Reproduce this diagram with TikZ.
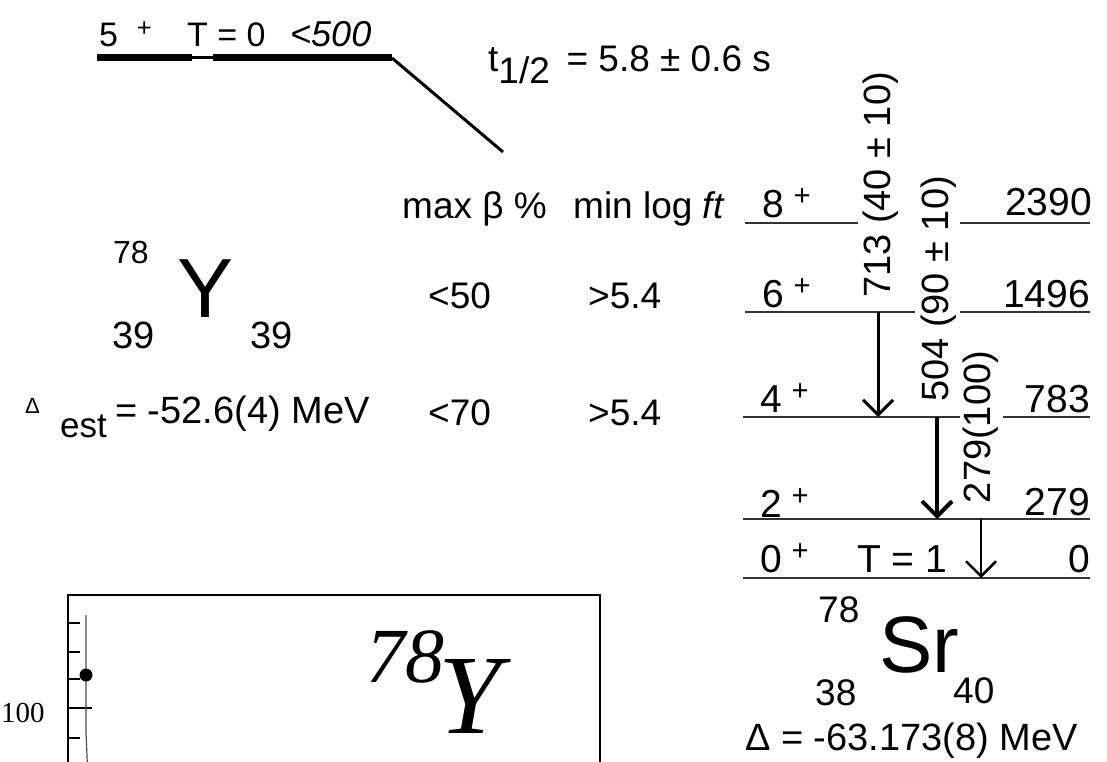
\documentclass[tikz,border=0pt]{standalone}
\usepackage{graphicx}
\usepackage{fontspec}
\setmainfont{Liberation Sans}
\newfontfamily\plotfont{Liberation Serif}
\usepackage{tikz}
\usetikzlibrary{positioning,arrows.meta}
\newcommand{\fsz}[1]{\fontsize{#1}{#1}\selectfont}
\newcommand{\upl}{\raisebox{0.3em}{\scalebox{0.75}{+}}}

\begin{document}
\begin{tikzpicture}[x=1pt,y=-1pt,
  lab/.style={anchor=base west, inner sep=0pt, font=\fsz{37}},
  rlab/.style={anchor=base east, inner sep=0pt, font=\fsz{39}},
  rot/.style={rotate=90, inner sep=0pt, font=\fsz{38}},
  lvl/.style={line width=2pt, black!80},
  gam/.style={-{Straight Barb[length=15pt,width=30pt]}}]
\clip (0,0) rectangle (1107,762);
\fill[white] (0,0) rectangle (1107,762);

% parent state
\node[lab, font=\fsz{34}] (jp5) at (99,47) {5\hspace{0.55em}\upl};
\node[lab, font=\fsz{34}] (iso0) at (187,47) {T = 0};
\node[lab, font=\fsz{36}\itshape] (qec) at (290,47) {<500};
\coordinate (gsA) at (97,58);
\coordinate (gsB) at (192,58);
\coordinate (gsC) at (213,58);
\coordinate (gsD) at (392,58);
\coordinate (betaend) at (503,152);
\draw[line width=7pt] (gsA) -- (gsB);
\draw[line width=3pt] (gsB) -- (gsC);
\draw[line width=7pt] (gsC) -- (gsD);
\draw[line width=3pt] (gsD) -- (betaend);
\node[lab] (thalf) at (488,72) {t\raisebox{-0.32em}{1/2}\hspace{0.45em}= 5.8 ± 0.6 s};

% branching table
\node[lab] (hbeta) at (402,218) {max β \%};
\node[lab] (hlogft) at (573,218) {min log \textit{ft}};
\node[lab] (b6) at (428,308) {<50};
\node[lab] (ft6) at (588,308) {>5.4};
\node[lab] (b4) at (428,425) {<70};
\node[lab] (ft4) at (588,425) {>5.4};

% parent nucleus
\node[lab, font=\fsz{32}] (yA) at (113,263) {78};
\node[lab, font=\fsz{84}] (ysym) at (177,317) {Y};
\node[lab, font=\fsz{38}] (yZ) at (112,348) {39};
\node[lab, font=\fsz{38}] (yN) at (250,348) {39};
\node[lab, font=\fsz{22}] (ydel) at (25,413) {Δ};
\node[lab, font=\fsz{35}] (yest) at (60,437) {est};
\node[lab, font=\fsz{38}] (ymass) at (115,423) {= -52.6(4) MeV};

% levels of the daughter
\foreach \y/\a/\b/\c/\d in {223/745/858/960/1090, 312/745/915/960/1090, 417/743/960/1003/1090}
  {\draw[lvl] (\a,\y) -- (\b,\y) (\c,\y) -- (\d,\y);}
\draw[lvl] (743,519) -- (1090,519);
\draw[lvl] (743,578) -- (1090,578);

\node[lab, font=\fsz{39}] (s8) at (762,217) {8\hspace{0.25em}\upl};
\node[rlab] (e8) at (1092,215) {2390};
\node[lab, font=\fsz{39}] (s6) at (762,307) {6\hspace{0.25em}\upl};
\node[rlab] (e6) at (1090,307) {1496};
\node[lab, font=\fsz{39}] (s4) at (760,412) {4\hspace{0.25em}\upl};
\node[rlab] (e4) at (1090,412) {783};
\node[lab, font=\fsz{39}] (s2) at (760,517) {2\hspace{0.25em}\upl};
\node[rlab] (e2) at (1090,515) {279};
\node[lab, font=\fsz{39}] (s0) at (760,572) {0\hspace{0.25em}\upl};
\node[lab, font=\fsz{39}] (iso1) at (857,572) {T = 1};
\node[rlab] (e0) at (1090,572) {0};

% gamma rays
\coordinate (g713a) at (878,312);
\coordinate (g713b) at (878,417);
\coordinate (g504a) at (937,417);
\coordinate (g504b) at (937,519);
\coordinate (g279a) at (981,519);
\coordinate (g279b) at (981,578);
\draw[gam, line width=3pt] (g713a) -- (g713b);
\draw[gam, line width=4pt] (g504a) -- (g504b);
\draw[gam, line width=2.5pt] (g279a) -- (g279b);
\node[rot] (l713) at (881,185) {713 (40 ± 10)};
\node[rot] (l504) at (939,289) {504 (90 ± 10)};
\node[rot] (l279) at (981,427) {279(100)};

% daughter nucleus
\node[lab, font=\fsz{37}] (srA) at (818,622) {78};
\node[lab, font=\fsz{80}] (srsym) at (879,672) {Sr};
\node[lab, font=\fsz{37}] (srZ) at (815,705) {38};
\node[lab, font=\fsz{37}] (srN) at (953,703) {40};
\node[lab, font=\fsz{38}] (srmass) at (745,750) {Δ = -63.173(8) MeV};

% plot below
\draw[line width=2pt] (68,780) -- (68,595) -- (600,595) -- (600,780);
\foreach \t in {623,652,679,738}
  \draw[line width=1.8pt] (68,\t) -- ++(12,0);
\draw[line width=1.8pt] (68,708) -- ++(24,0);
\draw[line width=1.2pt, black!70] (86,615) -- (86,733) -- (88,780);
\fill (86,675) circle (6.5pt);
\node[anchor=base west, inner sep=0pt, font=\plotfont\fsz{29}] (ytick) at (1,722) {100};
\node[anchor=base west, inner sep=0pt, font=\plotfont\itshape\fsz{78}] (plotA) at (366,682) {78};
\node[anchor=base west, inner sep=0pt, font=\plotfont\itshape\fsz{113}] (plotY) at (438,733) {Y};
\end{tikzpicture}
\end{document}
